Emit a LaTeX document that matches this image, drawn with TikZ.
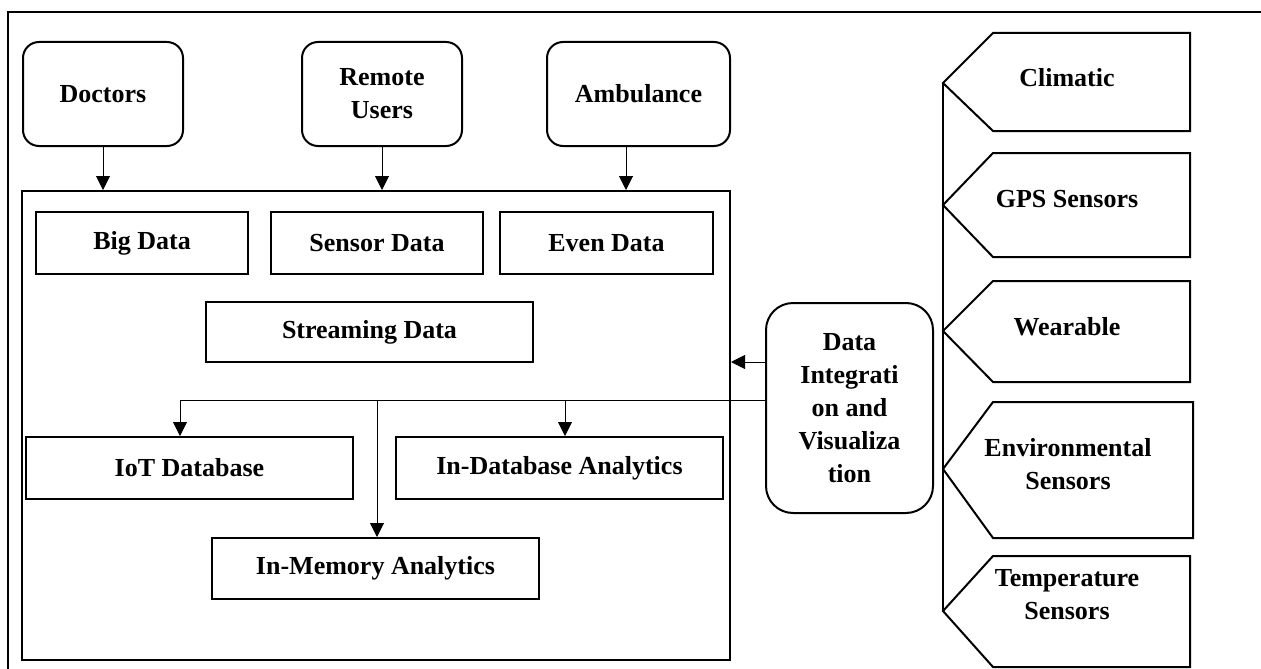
\documentclass[tikz,border=0pt]{standalone}
\usepackage{fontspec}
\setmainfont{Liberation Serif}
\usetikzlibrary{arrows.meta}
\begin{document}
\begin{tikzpicture}[x=1pt,y=-1pt,
  every node/.style={font=\fontsize{26}{33}\selectfont\bfseries, align=center, inner sep=0pt},
  rbox/.style={draw, line width=2pt, rounded corners=16pt},
  dbox/.style={draw, line width=2pt, rounded corners=27pt},
  sbox/.style={draw, line width=2pt},
  sensorshape/.style={draw, line width=2pt},
  arr/.style={line width=1pt, -{Triangle[width=14pt,length=14pt]}},
  conn/.style={line width=1pt},
  frame/.style={line width=2.5pt}]
\useasboundingbox (0,0) rectangle (1261,669);
% outer frame (cut at right and bottom)
\draw[frame] (8,669) -- (8,12) -- (1261,12);

% top actors
\node[rbox, minimum width=160pt, minimum height=104pt] (doc) at (103,94) {Doctors};
\node[rbox, minimum width=160pt, minimum height=104pt] (rem) at (382,94) {Remote\\Users};
\node[rbox, minimum width=183pt, minimum height=104pt] (amb) at (638.5,94) {Ambulance};

% main container
\node[sbox, minimum width=708pt, minimum height=469pt] (main) at (376,425.5) {};

% data boxes
\node[sbox, minimum width=212pt, minimum height=62pt] (big) at (142,243) {Big Data};
\node[sbox, minimum width=212pt, minimum height=62pt] (sen) at (377,243) {Sensor Data};
\node[sbox, minimum width=213pt, minimum height=62pt] (even) at (606.5,243) {Even Data};
\node[sbox, minimum width=327pt, minimum height=60pt] (stream) at (369.5,332) {Streaming Data};
\node[sbox, minimum width=327pt, minimum height=62pt] (iot) at (189.5,468) {IoT Database};
\node[sbox, minimum width=327pt, minimum height=62pt] (indb) at (559.5,468) {In-Database Analytics};
\node[sbox, minimum width=327pt, minimum height=61pt] (inmem) at (375.5,568.5) {In-Memory Analytics};

% data integration
\node[dbox, minimum width=167pt, minimum height=210pt] (di) at (849.5,408) {Data\\Integrati\\on and\\Visualiza\\tion};

% arrows from actors
\draw[arr] (doc.south) -- (doc.south |- main.north);
\draw[arr] (rem.south) -- (rem.south |- main.north);
\coordinate (ambD) at (626,146);
\draw[arr] (ambD) -- (ambD |- main.north);

% data integration to container
\coordinate (diA) at (766,362);
\draw[arr] (diA) -- (diA -| main.east);

% bus
\coordinate (busR) at (766,400);
\coordinate (busL) at (180,400);
\coordinate (busM) at (377,400);
\coordinate (busD) at (565,400);
\draw[conn] (busR) -- (busL);
\draw[arr] (busL) -- (busL |- iot.north);
\draw[arr] (busM) -- (busM |- inmem.north);
\draw[arr] (busD) -- (busD |- indb.north);

% sensors spine
\coordinate (spT) at (943,83);
\coordinate (spB) at (943,611);
\draw[line width=2pt] (spT) -- (spB);

% sensor shapes
\draw[sensorshape] (1190,33) -- (993,33) -- (943,83) -- (993,131) -- (1190,131) -- cycle;
\draw[sensorshape] (1190,153) -- (993,153) -- (943,205) -- (993,257) -- (1190,257) -- cycle;
\draw[sensorshape] (1190,281) -- (993,281) -- (943,331) -- (993,382) -- (1190,382) -- cycle;
\draw[sensorshape] (1193,402) -- (993,402) -- (943,469) -- (993,538) -- (1193,538) -- cycle;
\draw[sensorshape] (1190,556) -- (993,556) -- (943,611) -- (993,667) -- (1190,667) -- cycle;

\begin{scope}
  \clip (1000,40) rectangle (1180,86);
  \node (tclim) at (1067,78) {Climatic};
\end{scope}
\node (tgps) at (1067,199) {GPS Sensors};
\node (twear) at (1067,327) {Wearable};
\node (tenv) at (1068,464) {Environmental\\Sensors};
\node (ttemp) at (1067,595) {Temperature\\Sensors};
\end{tikzpicture}
\end{document}
